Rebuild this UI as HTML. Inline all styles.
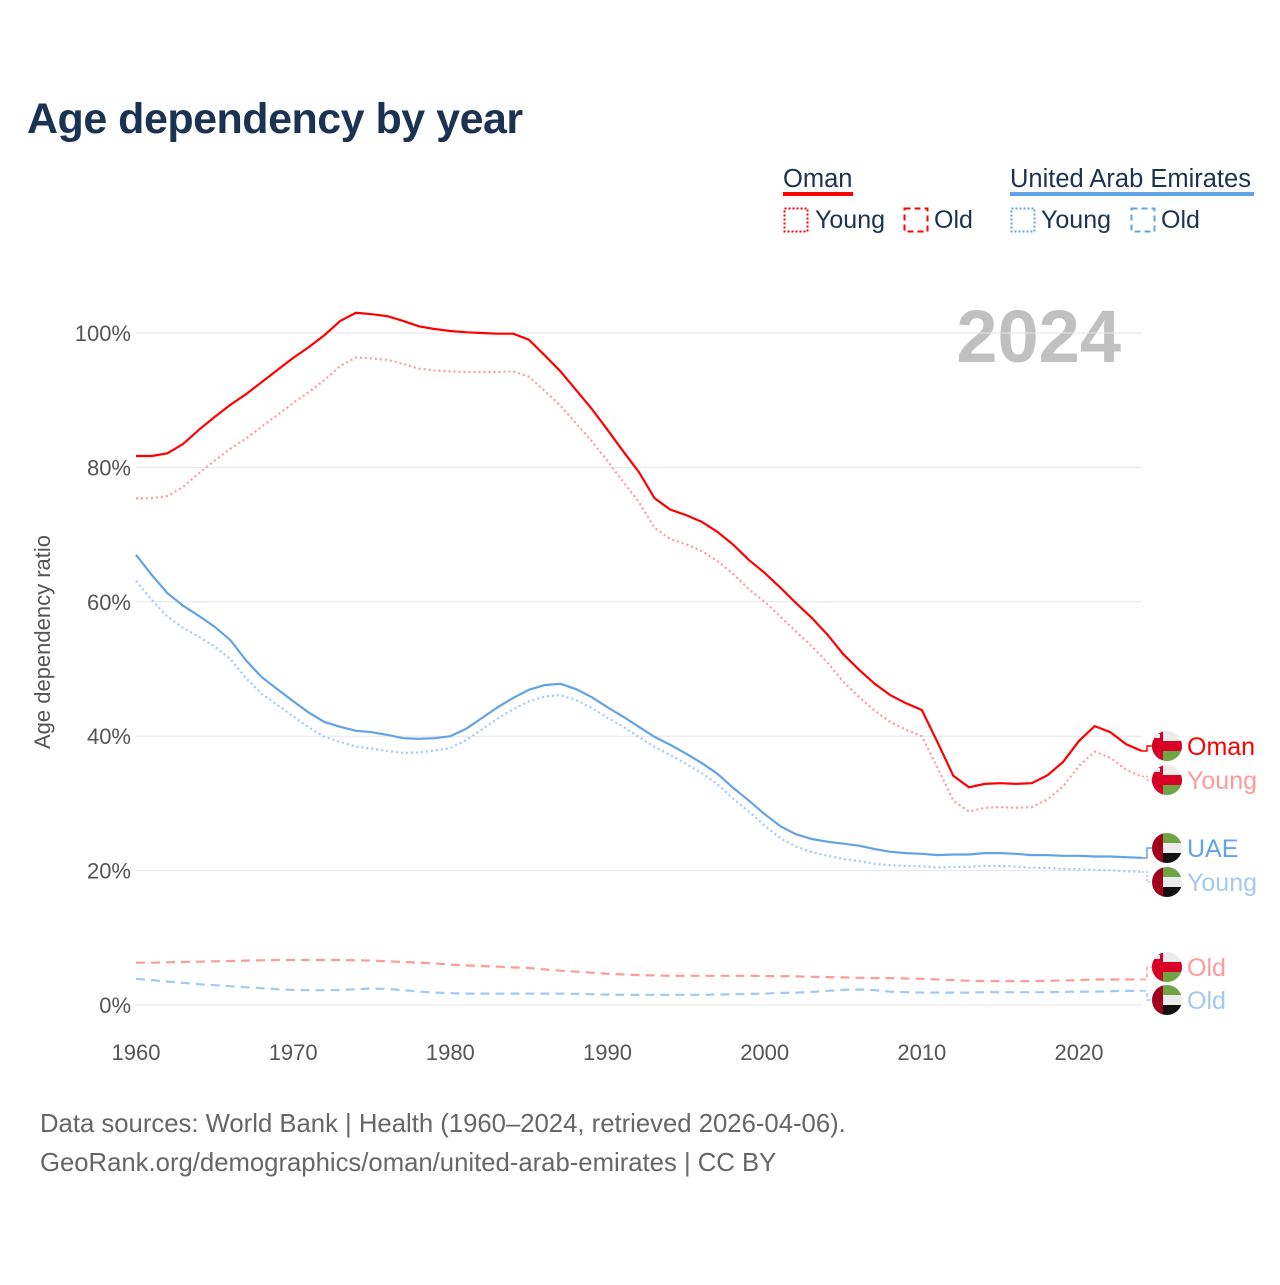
<!DOCTYPE html>
<html><head><meta charset="utf-8">
<style>
html,body{margin:0;padding:0;background:#fff;}
body{width:1280px;height:1280px;overflow:hidden;font-family:"Liberation Sans",sans-serif;}
svg text{font-family:"Liberation Sans",sans-serif;}
</style></head>
<body>
<svg id="chart" width="1280" height="1280" viewBox="0 0 1280 1280" xmlns="http://www.w3.org/2000/svg">
<defs>
<clipPath id="cc"><circle cx="0" cy="0" r="15"/></clipPath>
<g id="flagOman">
<g clip-path="url(#cc)">
<rect x="-15" y="-15" width="30" height="30" fill="#ececec"/>
<rect x="-15" y="0" width="30" height="15" fill="#6da544"/>
<rect x="-15" y="-5" width="30" height="10" fill="#d80027"/>
<rect x="-15" y="-15" width="11" height="30" fill="#d80027"/>
<rect x="-12" y="-12" width="5" height="4" fill="#eee"/>
</g></g>
<g id="flagUAE">
<g clip-path="url(#cc)">
<rect x="-15" y="-15" width="30" height="10" fill="#6da544"/>
<rect x="-15" y="-5" width="30" height="10" fill="#ececec"/>
<rect x="-15" y="5" width="30" height="10" fill="#111"/>
<rect x="-15" y="-15" width="11" height="30" fill="#a2001d"/>
</g></g>
</defs>
<text x="27" y="133" font-size="43" font-weight="bold" fill="#1a3352" letter-spacing="-0.5">Age dependency by year</text>

<g>
<text x="783" y="187" font-size="25.5" fill="#1a3352">Oman</text>
<rect x="783" y="192" width="70" height="4" fill="#ff0000"/>
<rect x="784.5" y="208.5" width="23" height="23" fill="none" stroke="#ff0000" stroke-width="2" stroke-dasharray="2,2"/>
<text x="815" y="228" font-size="25" fill="#1a3352">Young</text>
<rect x="904.5" y="208.5" width="23" height="23" fill="none" stroke="#ff0000" stroke-width="2" stroke-dasharray="6,4"/>
<text x="934" y="228" font-size="25" fill="#1a3352">Old</text>
<text x="1010" y="187" font-size="25.5" fill="#1a3352">United Arab Emirates</text>
<rect x="1010" y="192" width="244" height="4" fill="#62a3e8"/>
<rect x="1011.5" y="208.5" width="23" height="23" fill="none" stroke="#62a3e8" stroke-width="2" stroke-dasharray="2,2"/>
<text x="1041" y="228" font-size="25" fill="#1a3352">Young</text>
<rect x="1131.5" y="208.5" width="23" height="23" fill="none" stroke="#62a3e8" stroke-width="2" stroke-dasharray="6,4"/>
<text x="1161" y="228" font-size="25" fill="#1a3352">Old</text>
</g>

<text x="1121" y="362" font-size="74" font-weight="bold" fill="#c0c0c0" text-anchor="end">2024</text>
<text transform="translate(50,642) rotate(-90)" font-size="22" fill="#555" text-anchor="middle">Age dependency ratio</text>
<g id="grid"></g>
<g id="series"></g>
<g id="labels"></g>
<text x="40" y="1132" font-size="25.7" fill="#666">Data sources: World Bank | Health (1960–2024, retrieved 2026-04-06).</text>
<text x="40" y="1171" font-size="25.7" fill="#666">GeoRank.org/demographics/oman/united-arab-emirates | CC BY</text>
</svg>
<script>
const years=[];for(let y=1960;y<=2024;y++)years.push(y);
const omanTotal=[81.7,81.7,82.1,83.5,85.6,87.5,89.3,90.9,92.7,94.5,
96.3,97.9,99.7,101.8,103,102.8,102.5,101.8,101,100.6,
100.3,100.1,100,99.9,99.9,99,96.7,94.3,91.5,88.7,
85.6,82.4,79.3,75.4,73.7,72.9,71.9,70.4,68.5,66.2,
64.3,62.1,59.8,57.6,55.1,52.2,49.9,47.8,46.1,44.9,
43.9,39.1,34.1,32.4,32.9,33,32.9,33,34.2,36.2,
39.3,41.5,40.6,38.8,37.8];
const omanOld=[6.3,6.3,6.35,6.4,6.45,6.5,6.55,6.6,6.65,6.7,
6.7,6.7,6.7,6.7,6.65,6.6,6.5,6.4,6.3,6.2,
6.0,5.9,5.8,5.7,5.6,5.5,5.3,5.1,4.95,4.8,
4.65,4.55,4.45,4.4,4.35,4.35,4.35,4.35,4.35,4.35,
4.3,4.3,4.25,4.2,4.15,4.1,4.05,4.0,4.0,3.95,
3.9,3.8,3.7,3.6,3.55,3.55,3.55,3.55,3.6,3.65,
3.7,3.8,3.8,3.8,3.8];
const uaeTotal=[67,64,61.3,59.4,57.9,56.3,54.3,51.3,48.8,47,
45.2,43.5,42.1,41.4,40.8,40.6,40.2,39.7,39.6,39.7,
40,41.1,42.7,44.3,45.7,46.9,47.6,47.8,47,45.8,
44.3,42.9,41.4,39.9,38.7,37.4,36,34.4,32.3,30.4,
28.4,26.6,25.4,24.7,24.3,24,23.7,23.2,22.8,22.6,
22.5,22.3,22.4,22.4,22.6,22.6,22.5,22.3,22.3,22.2,
22.2,22.1,22.1,22,21.9];
const uaeOld=[3.9,3.7,3.5,3.3,3.1,2.95,2.8,2.65,2.5,2.35,
2.25,2.2,2.2,2.25,2.35,2.45,2.4,2.2,2.0,1.85,
1.75,1.7,1.7,1.7,1.7,1.7,1.7,1.7,1.65,1.6,
1.55,1.5,1.5,1.5,1.5,1.5,1.5,1.55,1.6,1.65,
1.7,1.8,1.85,1.95,2.1,2.25,2.3,2.2,2.0,1.9,
1.85,1.85,1.85,1.85,1.9,1.9,1.9,1.9,1.9,1.95,
2.0,2.0,2.05,2.1,2.1];
const omanYoung=omanTotal.map((v,i)=>v-omanOld[i]);
const uaeYoung=uaeTotal.map((v,i)=>v-uaeOld[i]);
const yTicks=[0,20,40,60,80,100];
const xTicks=[1960,1970,1980,1990,2000,2010,2020];

const NS="http://www.w3.org/2000/svg";
const X=y=>136+(y-1960)*(943/60);
const Y=v=>1005-v*6.72;
function mk(tag,attrs,parent){const e=document.createElementNS(NS,tag);for(const k in attrs)e.setAttribute(k,attrs[k]);parent.appendChild(e);return e;}
const grid=document.getElementById('grid');
yTicks.forEach(t=>{
  const l=mk('line',{x1:136,x2:1142,y1:Y(t),y2:Y(t),stroke:'#e6e6e6','stroke-width':1},grid);
  
  
  const tx=mk('text',{x:131,y:Y(t)+8,'font-size':22,fill:'#555','text-anchor':'end'},grid);
  tx.textContent=t+'%';
  
  
});
xTicks.forEach(t=>{
  const tx=mk('text',{x:X(t),y:1060,'font-size':22,fill:'#555','text-anchor':'middle'},grid);
  tx.textContent=t;
  
  
});
const ser=document.getElementById('series');
function line(vals,color,dash,name){
  const d=vals.map((v,i)=>(i?'L':'M')+X(years[i]).toFixed(1)+','+Y(v).toFixed(1)).join('');
  const p=mk('path',{d:d,fill:'none',stroke:color,'stroke-width':2.2,'stroke-dasharray':dash},ser);
  
  
}
line(omanOld,'#ff9a9a','9,6','line-oman-old');
line(uaeOld,'#a3c9f2','9,6','line-uae-old');
line(omanYoung,'#ff9a9a','2,3','line-oman-young');
line(uaeYoung,'#a3c9f2','2,3','line-uae-young');
line(omanTotal,'#ff0000','none','line-oman-total');
line(uaeTotal,'#62a3e8','none','line-uae-total');

const lab=document.getElementById('labels');
const last=years.length-1;
const ends=[
 {v:omanTotal[last],ly:746,c:'#ff0000',t:'Oman',f:'flagOman',n:'label-oman-total',dash:'none'},
 {v:omanYoung[last],ly:780,c:'#ff9a9a',t:'Young',f:'flagOman',n:'label-oman-young',dash:'2,2'},
 {v:uaeTotal[last],ly:848,c:'#62a3e8',t:'UAE',f:'flagUAE',n:'label-uae-total',dash:'none'},
 {v:uaeYoung[last],ly:882,c:'#a3c9f2',t:'Young',f:'flagUAE',n:'label-uae-young',dash:'2,2'},
 {v:omanOld[last],ly:967,c:'#ff9a9a',t:'Old',f:'flagOman',n:'label-oman-old',dash:'4,3'},
 {v:uaeOld[last],ly:1000,c:'#a3c9f2',t:'Old',f:'flagUAE',n:'label-uae-old',dash:'4,3'}
];
ends.forEach(e=>{
  const y0=Y(e.v);
  mk('path',{d:`M1142,${y0}H1147V${e.ly}H1153`,fill:'none',stroke:e.c,'stroke-width':1.5,'stroke-dasharray':e.dash},lab);
  const u=mk('use',{href:'#'+e.f,x:1167,y:e.ly},lab);
  
  
  const tx=mk('text',{x:1187,y:e.ly+9,'font-size':25,fill:e.c},lab);
  tx.textContent=e.t;
  
  
});
</script>
</body></html>
